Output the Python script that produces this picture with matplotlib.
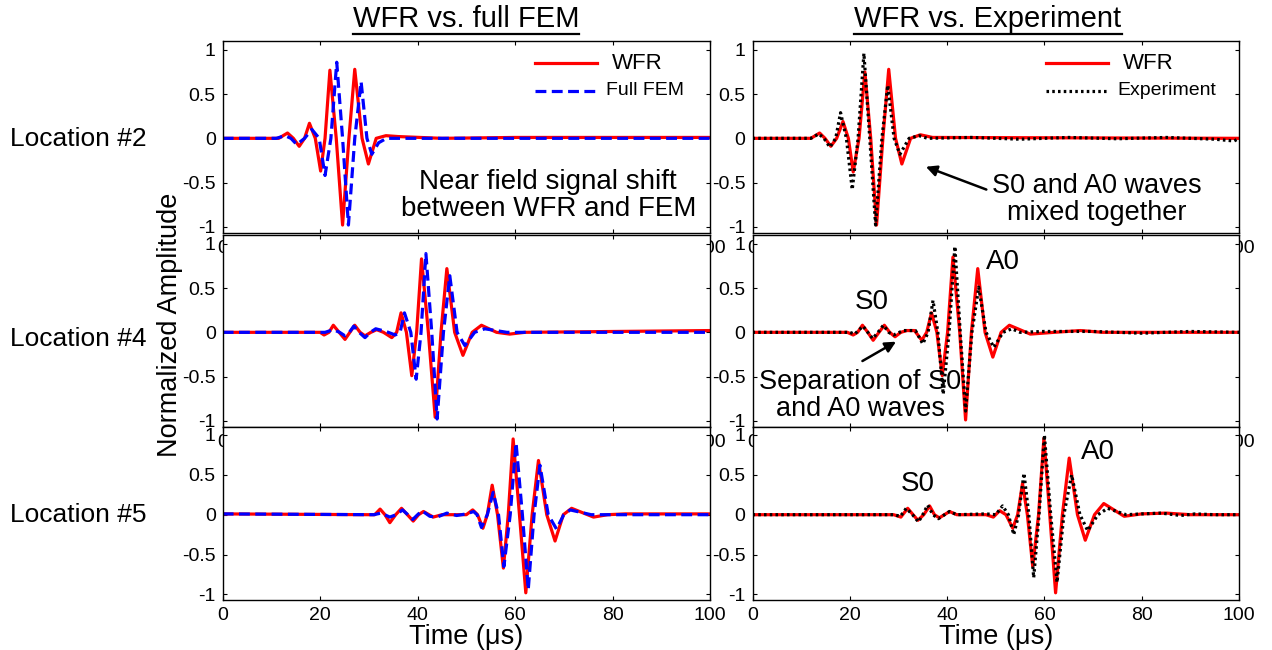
import matplotlib
matplotlib.use("Agg")
import matplotlib.pyplot as plt
from matplotlib.lines import Line2D

plt.rcParams["font.family"] = ["Liberation Sans", "DejaVu Sans"]

# ---- data (time in us, normalized amplitude) ----
# Location #2, WFR vs full FEM
t_wfr_2a = [0, 11.5, 13.3, 14.5, 15.7, 16.8, 17.8, 19.0, 20.1, 21.0, 22.0, 23.3, 24.6, 25.9,
            27.1, 28.6, 29.9, 31.5, 33.5, 36, 45, 60, 80, 100]
y_wfr_2a = [0, 0, 0.06, 0, -0.09, 0, 0.17, 0, -0.37, 0, 0.77, 0, -0.98, 0,
            0.78, 0, -0.29, 0, 0.03, 0.02, 0, 0.01, 0.01, 0.01]
t_fem_2 = [0, 11, 12.8, 14.0, 15.2, 16.8, 18.3, 19.8, 21.0, 22.2, 23.4, 24.6, 25.8, 27.1,
           28.4, 29.6, 30.6, 32.0, 33.6, 50, 70, 100]
y_fem_2 = [0, 0, 0.03, 0, -0.07, 0, 0.10, 0, -0.42, 0, 0.86, 0, -0.98, 0,
           0.64, 0, -0.18, -0.05, 0, 0, 0, 0]

# Location #2, WFR vs experiment
t_wfr_2b = [0, 12, 13.8, 14.9, 16.1, 17.3, 18.6, 19.7, 20.7, 21.9, 23.1, 24.3, 25.5, 26.8,
            28.0, 29.4, 30.7, 32.5, 34.5, 37, 100]
y_wfr_2b = [0, 0, 0.06, 0, -0.09, 0, 0.19, 0, -0.38, 0, 0.75, 0, -0.98, 0,
            0.78, 0, -0.29, 0, 0.04, 0.01, 0]
t_exp_2 = [0, 12, 13.6, 14.7, 15.9, 17.1, 18.1, 19.3, 20.5, 21.7, 22.9, 24.1, 25.3, 26.6,
           27.8, 29.1, 30.3, 32.2, 34.2, 36, 45, 55, 65, 75, 85, 95, 99, 100]
y_exp_2 = [0, 0, 0.05, 0, -0.10, 0, 0.29, 0, -0.58, 0, 0.96, 0, -0.98, 0,
           0.60, 0, -0.18, 0, 0.03, 0, 0.01, -0.01, 0.01, -0.005, 0.01, -0.01, -0.03, 0]

# Location #4, WFR vs full FEM
t_wfr_4a = [0, 20, 20.8, 21.8, 22.7, 23.9, 25.1, 26.1, 27.1, 28.2, 29.2, 30.4, 31.6, 33.0,
            34.7, 35.7, 36.6, 37.7, 38.8, 39.8, 40.8, 42.2, 43.6, 44.8, 46.0, 47.6, 49.3,
            51.2, 53.1, 56.2, 58.9, 62, 100]
y_wfr_4a = [0, 0, -0.03, 0, 0.08, 0, -0.08, 0, 0.08, 0, -0.04, 0, 0.03, 0,
            -0.06, 0, 0.22, 0, -0.49, 0, 0.83, 0, -0.96, 0, 0.72, 0, -0.26,
            0, 0.08, 0, -0.02, 0, 0.02]
t_fem_4 = [0, 21, 22.7, 24.0, 25.1, 26.0, 26.9, 28.0, 29.2, 30.3, 31.4, 33.5, 35.4, 36.4,
           37.3, 38.6, 39.7, 40.7, 41.7, 42.9, 44.0, 45.3, 46.6, 48.1, 49.7, 51.7, 53.8,
           58.3, 100]
y_fem_4 = [0, 0, 0.03, 0, -0.04, 0, 0.07, 0, -0.06, 0, 0.04, 0.01, -0.03, 0,
           0.22, 0, -0.53, 0, 0.89, 0, -0.98, 0, 0.64, 0, -0.15, 0, 0.04,
           0, 0]

# Location #4, WFR vs experiment
t_wfr_4b = [0, 19.5, 20.7, 21.6, 22.6, 23.7, 24.8, 26.0, 27.1, 28.2, 29.3, 30.5, 31.7, 33.3,
            34.8, 35.8, 36.8, 37.9, 39.0, 40.1, 41.2, 42.6, 43.8, 45.0, 46.3, 47.8, 49.4,
            51.1, 52.8, 57.1, 62, 67.4, 72, 100]
y_wfr_4b = [0, 0, -0.03, 0, 0.08, 0, -0.09, 0, 0.08, 0, -0.05, 0, 0.02, 0.02,
            -0.09, 0, 0.22, 0, -0.49, 0, 0.85, 0, -0.99, 0, 0.72, 0, -0.28,
            0, 0.08, -0.02, 0, 0.02, 0, 0]
t_exp_4 = [0, 20, 21, 22.7, 23.7, 24.7, 25.8, 26.9, 28.0, 29.0, 31, 33.5, 35.0, 36.1,
           37.1, 38.1, 39.2, 40.4, 41.6, 42.7, 43.8, 45.1, 46.5, 48.0, 49.6, 51.5, 53.3,
           55, 60, 70, 80, 90, 100]
y_exp_4 = [0, 0, -0.02, 0.07, 0, -0.07, 0, 0.08, 0, -0.03, 0.02, 0.02, -0.13, 0,
           0.36, 0, -0.70, 0, 0.97, 0, -0.89, 0, 0.51, 0, -0.17, 0, 0.04,
           0, 0.01, 0.01, -0.01, 0.01, 0]

# Location #5, WFR vs full FEM
t_wfr_5a = [0, 30, 31.2, 32.3, 33.3, 34.3, 35.5, 36.7, 37.9, 39.1, 40.2, 41.2, 43.2, 45,
            50, 51.3, 52.3, 53.4, 54.3, 55.3, 56.4, 57.6, 58.6, 59.6, 60.9, 62.2, 63.5,
            64.8, 66.5, 68.2, 69.9, 71.6, 76.1, 79, 82.6, 100]
y_wfr_5a = [0.01, 0, 0, 0.07, 0, -0.10, 0, 0.08, 0, -0.08, 0, 0.04, -0.03, 0,
            0, 0.06, 0, -0.17, 0, 0.37, 0, -0.67, 0, 0.95, 0, -0.98, 0,
            0.68, 0, -0.33, 0, 0.08, -0.03, 0, 0.01, 0.01]
t_fem_5 = [0, 31, 32.5, 34.3, 35.6, 36.9, 38.0, 39.0, 40.0, 40.9, 42.5, 44, 46, 48, 50,
           51.5, 52.2, 53.1, 54.3, 55.5, 56.6, 57.7, 59.0, 60.2, 61.5, 62.7, 63.9, 65.1,
           66.8, 68.5, 70, 71.3, 75.6, 100]
y_fem_5 = [0.01, 0, 0.02, -0.03, 0, 0.06, 0, -0.06, 0, 0.05, -0.02, -0.03, 0.02, -0.01, 0.01,
           0.04, 0, -0.16, 0, 0.28, 0, -0.65, 0, 0.90, 0, -0.94, 0, 0.62,
           0, -0.18, 0, 0.06, 0, 0]

# Location #5, WFR vs experiment
t_wfr_5b = [0, 29, 30.5, 31.9, 33.0, 34.0, 35.2, 36.4, 37.4, 38.4, 40.5, 42, 48, 49.5,
            50.8, 52.1, 53.5, 54.5, 55.5, 56.5, 57.6, 58.8, 59.9, 61.1, 62.3, 63.7, 65.1,
            66.8, 68.4, 70.3, 72.2, 76.4, 80, 85, 90, 100]
y_wfr_5b = [0, 0, -0.03, 0.08, 0, -0.07, 0, 0.11, 0, -0.04, 0.04, 0, 0, -0.03,
            0.05, 0, -0.17, 0, 0.39, 0, -0.65, 0, 0.96, 0, -0.98, 0, 0.71,
            0, -0.32, 0, 0.14, -0.02, 0.01, 0.02, 0, 0]
t_exp_5 = [0, 29, 30.4, 31.6, 32.9, 34.1, 35.0, 36.0, 37.1, 38.2, 40.5, 42, 48, 50,
           51.4, 52.6, 53.7, 54.7, 55.8, 56.8, 57.8, 58.9, 60.0, 61.3, 62.6, 64.0, 65.6,
           67.3, 68.9, 71, 73.0, 76.8, 80, 84, 88, 91, 95, 100]
y_exp_5 = [0, 0, -0.02, 0.08, 0, -0.09, 0, 0.12, 0, -0.05, 0.04, 0, 0.01, 0,
           0.11, 0, -0.25, 0, 0.52, 0, -0.79, 0, 1.0, 0, -0.85, 0, 0.50,
           0, -0.20, 0, 0.08, 0, 0.01, 0.02, -0.01, 0.01, 0, 0]

x_ticks = [0, 20, 40, 60, 80, 100]
y_ticks = [-1, -0.5, 0, 0.5, 1]
y_tick_labels = ["-1", "-0.5", "0", "0.5", "1"]
row_labels = ["Location #2", "Location #4", "Location #5"]

W, H = 1272, 650
fig = plt.figure(figsize=(W / 100, H / 100), dpi=100)


def px_axes(left, top, right, bottom):
    return fig.add_axes([left / W, 1 - bottom / H, (right - left) / W, (bottom - top) / H])


def style(ax):
    ax.set_xlim(0, 100)
    ax.set_ylim(-1.07, 1.1)
    ax.set_xticks(x_ticks)
    ax.set_yticks(y_ticks)
    ax.set_yticklabels(y_tick_labels)
    ax.tick_params(direction="in", top=True, right=True, length=3, width=0.8,
                   labelsize=14, pad=5)
    for s in ax.spines.values():
        s.set_linewidth(1.0)


rows = [(41, 233), (235, 427), (427, 600)]
left_col = (222.7, 710)
right_col = (752.5, 1239)

fem_data = [(t_wfr_2a, y_wfr_2a, t_fem_2, y_fem_2),
            (t_wfr_4a, y_wfr_4a, t_fem_4, y_fem_4),
            (t_wfr_5a, y_wfr_5a, t_fem_5, y_fem_5)]
exp_data = [(t_wfr_2b, y_wfr_2b, t_exp_2, y_exp_2),
            (t_wfr_4b, y_wfr_4b, t_exp_4, y_exp_4),
            (t_wfr_5b, y_wfr_5b, t_exp_5, y_exp_5)]

axes_l, axes_r = [], []
for i, (top, bot) in enumerate(rows):
    axl = px_axes(left_col[0], top, left_col[1], bot)
    style(axl)
    tw, yw, tf, yf = fem_data[i]
    axl.plot(tw, yw, color="red", lw=2.3)
    axl.plot(tf, yf, color="blue", lw=2.3, dashes=(3.4, 1.7))
    axes_l.append(axl)

    axr = px_axes(right_col[0], top, right_col[1], bot)
    style(axr)
    tw, yw, te, ye = exp_data[i]
    axr.plot(tw, yw, color="red", lw=2.3)
    axr.plot(te, ye, color="black", lw=2.3, dashes=(0.8, 1.0))
    axes_r.append(axr)

    fig.text(10 / W, 1 - [139, 339, 515][i] / H, row_labels[i], fontsize=19,
             ha="left", va="center")

# legends (drawn by hand to match spacing)
for ax, lab2, ls in [(axes_l[0], "Full FEM", (3.4, 1.7)), (axes_r[0], "Experiment", (0.8, 1.0))]:
    x0 = 0.641 if ax is axes_l[0] else 0.603
    x1 = 0.768 if ax is axes_l[0] else 0.731
    ax.plot([x0, x1], [0.885, 0.885], transform=ax.transAxes, color="red", lw=2.3)
    ax.add_line(Line2D([x0, x1], [0.740, 0.740], transform=ax.transAxes,
                       color="blue" if lab2 == "Full FEM" else "black", lw=2.3, dashes=ls))
    ax.text(x1 + 0.03, 0.885, "WFR", transform=ax.transAxes, fontsize=16, va="center")
    ax.text(x1 + 0.018, 0.740, lab2, transform=ax.transAxes, fontsize=14, va="center")

# annotations
axes_l[0].text(66.8, -0.65, "Near field signal shift\nbetween WFR and FEM", fontsize=20,
               ha="center", va="center", linespacing=1.05)
axes_r[0].text(70.8, -0.69, "S0 and A0 waves\nmixed together", fontsize=19.5,
               ha="center", va="center", linespacing=1.08)
axes_r[0].annotate("", xy=(35.1, -0.31), xytext=(48.6, -0.59),
                   arrowprops=dict(arrowstyle="-|>", color="black", lw=1.8, mutation_scale=16))
axes_r[1].text(22.1, -0.71, "Separation of S0\nand A0 waves", fontsize=19.5,
               ha="center", va="center", linespacing=1.05)
axes_r[1].annotate("", xy=(30.0, -0.09), xytext=(22.1, -0.34),
                   arrowprops=dict(arrowstyle="-|>", color="black", lw=1.8, mutation_scale=16))
axes_r[1].text(24.5, 0.34, "S0", fontsize=20, ha="center", va="center")
axes_r[1].text(51.5, 0.80, "A0", fontsize=20, ha="center", va="center")
axes_r[2].text(34.0, 0.38, "S0", fontsize=20, ha="center", va="center")
axes_r[2].text(71.0, 0.79, "A0", fontsize=20, ha="center", va="center")

# axis labels
fig.text(170 / W, 0.5, "Normalized Amplitude", rotation=90, fontsize=19.5,
         ha="center", va="center")
for cx in [466.4, 995.7]:
    fig.text(cx / W, 1 - 637 / H, "Time (\u03bcs)", fontsize=19.5, ha="center", va="center")

# underlined column titles
titles = []
for cx, s in [(466, "WFR vs. full FEM"), (988, "WFR vs. Experiment")]:
    titles.append(fig.text(cx / W, 1 - 19 / H, s, fontsize=21, ha="center", va="center"))
fig.canvas.draw()
r = fig.canvas.get_renderer()
for t in titles:
    bb = t.get_window_extent(r)
    fig.add_artist(Line2D([bb.x0 / W, bb.x1 / W], [1 - 34 / H, 1 - 34 / H],
                          transform=fig.transFigure, color="black", lw=1.6))

fig.savefig("out.png", dpi=100)
